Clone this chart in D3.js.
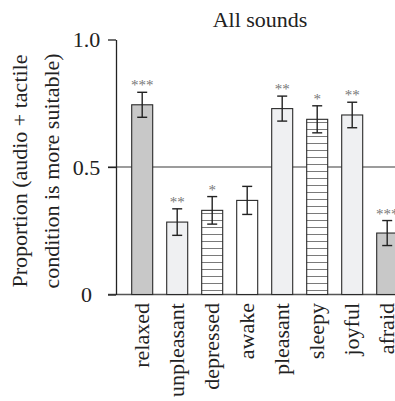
<!DOCTYPE html>
<html>
<head>
<meta charset="utf-8">
<script src="https://cdn.jsdelivr.net/npm/d3@7"></script>
<style>
  body { margin: 0; background: #fff; }
  svg { display: block; }
</style>
</head>
<body>
<div id="chart"></div>
<script>
const categories = ['relaxed', 'unpleasant', 'depressed', 'awake', 'pleasant', 'sleepy', 'joyful', 'afraid'];
const proportions = [0.744, 0.284, 0.330, 0.369, 0.729, 0.687, 0.704, 0.241];
const errors = [0.049, 0.052, 0.054, 0.055, 0.049, 0.053, 0.050, 0.049];
const stars = ['***', '**', '*', '', '**', '*', '**', '***'];
const groups = ['grey', 'light', 'striped', 'plain', 'light', 'striped', 'light', 'grey'];
const yTicks = [0, 0.5, 1];
const yTickLabels = ['0', '0.5', '1.0'];

const width = 395, height = 401;
const font = '"Liberation Serif"';

const svg = d3.select('#chart').append('svg')
  .attr('width', width)
  .attr('height', height)
  .attr('font-family', font);

// horizontal stripes for two of the bars
svg.append('defs').append('pattern')
  .attr('id', 'stripes')
  .attr('patternUnits', 'userSpaceOnUse')
  .attr('width', 8)
  .attr('height', 7)
  .call(p => {
    p.append('rect').attr('width', 8).attr('height', 7).attr('fill', '#fff');
    p.append('line').attr('x1', 0).attr('x2', 8).attr('y1', 3.5).attr('y2', 3.5)
      .attr('stroke', '#7a7a7a').attr('stroke-width', 1);
  });

const fill = d3.scaleOrdinal()
  .domain(['grey', 'light', 'striped', 'plain'])
  .range(['#c8c8c8', '#eff0f2', 'url(#stripes)', '#ffffff']);

const x = d3.scaleBand()
  .domain(categories)
  .range([124.7, 404.7])
  .paddingInner(0.4)
  .paddingOuter(0.2);

const y = d3.scaleLinear()
  .domain([0, 1])
  .range([294.5, 39.5]);

const axisX = 116;
const data = categories.map((c, i) => ({
  cat: c, v: proportions[i], e: errors[i], s: stars[i], g: groups[i]
}));

// reference line at 0.5 and the baseline
svg.append('line')
  .attr('x1', 108).attr('x2', width)
  .attr('y1', y(0.5)).attr('y2', y(0.5))
  .attr('stroke', '#3a3a3a').attr('stroke-width', 1.2);

svg.append('line')
  .attr('x1', 108).attr('x2', width)
  .attr('y1', y(0)).attr('y2', y(0))
  .attr('stroke', '#555').attr('stroke-width', 1.5);

// y axis
const yAxis = svg.append('g')
  .attr('transform', `translate(${axisX},0)`)
  .call(d3.axisLeft(y)
    .tickValues(yTicks)
    .tickFormat((d, i) => yTickLabels[i])
    .tickSize(8)
    .tickSizeOuter(0));

yAxis.attr('font-family', font);
yAxis.select('.domain').attr('stroke', '#222').attr('stroke-width', 1.3);
yAxis.selectAll('.tick line').attr('stroke', '#222').attr('stroke-width', 1.3);
yAxis.selectAll('.tick text')
  .attr('x', -29.5)
  .attr('dy', '0.34em')
  .attr('text-anchor', 'middle')
  .attr('font-size', 22)
  .attr('font-family', font)
  .attr('fill', '#222');

// bars
svg.selectAll('.bar')
  .data(data)
  .enter()
  .append('rect')
  .attr('class', 'bar')
  .attr('x', d => x(d.cat))
  .attr('y', d => y(d.v))
  .attr('width', x.bandwidth())
  .attr('height', d => y(0) - y(d.v))
  .attr('fill', d => fill(d.g))
  .attr('stroke', '#2a2a2a')
  .attr('stroke-width', 1.1);

// error bars
const cap = 5;
const eb = svg.selectAll('.err')
  .data(data)
  .enter()
  .append('g')
  .attr('class', 'err')
  .attr('stroke', '#222')
  .attr('stroke-width', 1.4);

eb.append('line')
  .attr('x1', d => x(d.cat) + x.bandwidth() / 2)
  .attr('x2', d => x(d.cat) + x.bandwidth() / 2)
  .attr('y1', d => y(d.v + d.e))
  .attr('y2', d => y(d.v - d.e));
eb.append('line')
  .attr('x1', d => x(d.cat) + x.bandwidth() / 2 - cap)
  .attr('x2', d => x(d.cat) + x.bandwidth() / 2 + cap)
  .attr('y1', d => y(d.v + d.e))
  .attr('y2', d => y(d.v + d.e));
eb.append('line')
  .attr('x1', d => x(d.cat) + x.bandwidth() / 2 - cap)
  .attr('x2', d => x(d.cat) + x.bandwidth() / 2 + cap)
  .attr('y1', d => y(d.v - d.e))
  .attr('y2', d => y(d.v - d.e));

// significance stars
svg.selectAll('.star')
  .data(data)
  .enter()
  .append('text')
  .attr('class', 'star')
  .attr('x', d => x(d.cat) + x.bandwidth() / 2)
  .attr('y', d => y(d.v + d.e) - 2)
  .attr('text-anchor', 'middle')
  .attr('font-family', font)
  .attr('font-size', 15)
  .attr('fill', '#777')
  .text(d => d.s);

// category labels
svg.selectAll('.cat')
  .data(data)
  .enter()
  .append('text')
  .attr('class', 'cat')
  .attr('transform', d => `translate(${x(d.cat) + x.bandwidth() / 2 + 7},303) rotate(-90)`)
  .attr('text-anchor', 'end')
  .attr('font-family', font)
  .attr('font-size', 22)
  .attr('fill', '#222')
  .text(d => d.cat);

// title
svg.append('text')
  .attr('x', 260)
  .attr('y', 27)
  .attr('text-anchor', 'middle')
  .attr('font-family', font)
  .attr('font-size', 22)
  .attr('fill', '#222')
  .text('All sounds');

// y axis label, two lines
const yLabel = ['Proportion (audio + tactile', 'condition is more suitable)'];
svg.selectAll('.ylab')
  .data(yLabel)
  .enter()
  .append('text')
  .attr('class', 'ylab')
  .attr('transform', (d, i) => `translate(${27 + i * 32},171) rotate(-90)`)
  .attr('text-anchor', 'middle')
  .attr('font-family', font)
  .attr('font-size', 22)
  .attr('fill', '#222')
  .text(d => d);
</script>
</body>
</html>
